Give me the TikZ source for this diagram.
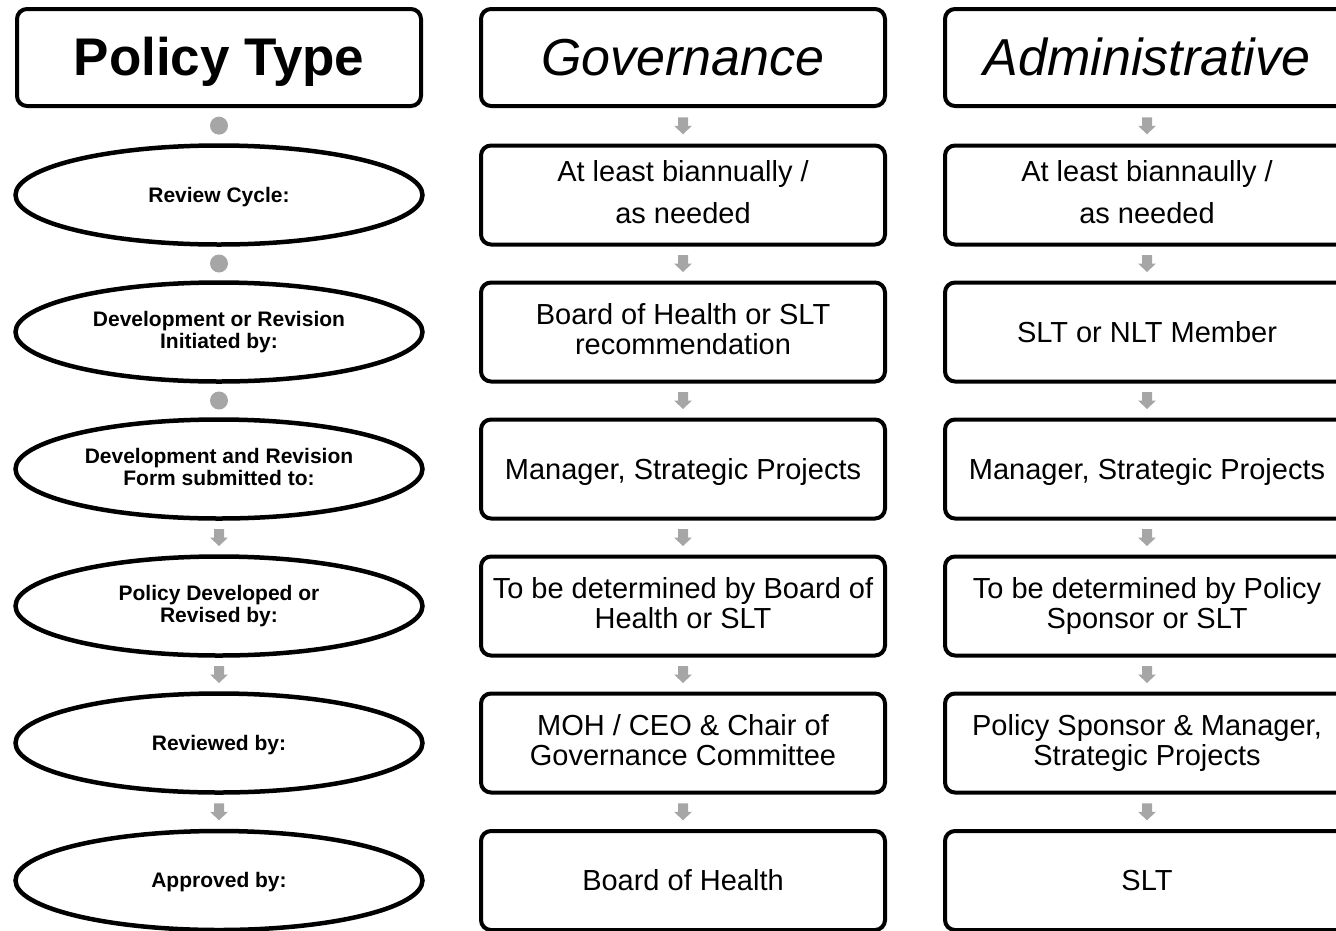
\documentclass[tikz,border=0pt]{standalone}
\usepackage{fontspec}
\setmainfont{Liberation Sans}
\usetikzlibrary{shapes.geometric,calc}
\definecolor{linkgray}{HTML}{A6A6A6}
% line box of the font: ascent and descent
\newcommand\linestrut{\rule[-0.212em]{0pt}{1.117em}}

\tikzset{
  evened/.style={execute at begin node=\linestrut, execute at end node=\linestrut},
  headbox/.style={draw, evened, line width=4pt, rounded corners=10pt, minimum width=404pt, minimum height=97pt, inner sep=0pt, font=\fontsize{52}{60}\selectfont},
  infobox/.style={draw, evened, line width=4pt, rounded corners=10pt, minimum width=404pt, minimum height=99pt, inner sep=0pt, align=center, font=\fontsize{29}{30}\selectfont},
  stage/.style={draw, evened, ellipse, line width=4.5pt, minimum width=407pt, minimum height=99pt, inner sep=0pt, align=center, font=\bfseries\fontsize{21}{22}\selectfont},
  gdot/.pic={\fill[linkgray] (0,0) circle (9pt);},
  garrow/.pic={\fill[linkgray] (-5,-8.5) -- (5,-8.5) -- (5,0) -- (9,0) -- (0,8.5) -- (-9,0) -- (-5,0) -- cycle;}
}

\begin{document}
\begin{tikzpicture}[x=1pt, y=-1pt]
  \path[use as bounding box, clip] (0,0) rectangle (1336,930);

  % headers
  \node[headbox] (t0) at (219,57.5) {\bfseries\fontsize{53}{60}\selectfont Policy Type};
  \node[headbox] (g0) at (683,57.5) {\itshape Governance};
  \node[headbox] (a0) at (1147,57.5) {\itshape Administrative};

  % left column: steps
  \node[stage] (t1) at (219,195)   {Review Cycle:};
  \node[stage] (t2) at (219,332)   {Development or Revision\\Initiated by:};
  \node[stage] (t3) at (219,469)   {Development and Revision\\Form submitted to:};
  \node[stage] (t4) at (219,606)   {Policy Developed or\\Revised by:};
  \node[stage] (t5) at (219,743)   {Reviewed by:};
  \node[stage] (t6) at (219,880.5) {Approved by:};

  % governance
  \node[infobox] (g1) at (683,195)   {At least biannually /\\[12pt]as needed};
  \node[infobox] (g2) at (683,332)   {Board of Health or SLT\\recommendation};
  \node[infobox] (g3) at (683,469)   {Manager, Strategic Projects};
  \node[infobox] (g4) at (683,606)   {To be determined by Board of\\Health or SLT};
  \node[infobox] (g5) at (683,743)   {MOH / CEO \& Chair of\\Governance Committee};
  \node[infobox] (g6) at (683,880.5) {Board of Health};

  % administrative
  \node[infobox] (a1) at (1147,195)   {At least biannaully /\\[12pt]as needed};
  \node[infobox] (a2) at (1147,332)   {SLT or NLT Member};
  \node[infobox] (a3) at (1147,469)   {Manager, Strategic Projects};
  \node[infobox] (a4) at (1147,606)   {To be determined by Policy\\Sponsor or SLT};
  \node[infobox] (a5) at (1147,743)   {Policy Sponsor \& Manager,\\Strategic Projects};
  \node[infobox] (a6) at (1147,880.5) {SLT};

  % links: dots first, then arrows
  \pic at ($(t0.south)!.5!(t1.north)$) {gdot};
  \pic at ($(t1.south)!.5!(t2.north)$) {gdot};
  \pic at ($(t2.south)!.5!(t3.north)$) {gdot};
  \pic at ($(t3.south)!.5!(t4.north)$) {garrow};
  \pic at ($(t4.south)!.5!(t5.north)$) {garrow};
  \pic at ($(t5.south)!.5!(t6.north)$) {garrow};

  \pic at ($(g0.south)!.5!(g1.north)$) {garrow};
  \pic at ($(g1.south)!.5!(g2.north)$) {garrow};
  \pic at ($(g2.south)!.5!(g3.north)$) {garrow};
  \pic at ($(g3.south)!.5!(g4.north)$) {garrow};
  \pic at ($(g4.south)!.5!(g5.north)$) {garrow};
  \pic at ($(g5.south)!.5!(g6.north)$) {garrow};

  \pic at ($(a0.south)!.5!(a1.north)$) {garrow};
  \pic at ($(a1.south)!.5!(a2.north)$) {garrow};
  \pic at ($(a2.south)!.5!(a3.north)$) {garrow};
  \pic at ($(a3.south)!.5!(a4.north)$) {garrow};
  \pic at ($(a4.south)!.5!(a5.north)$) {garrow};
  \pic at ($(a5.south)!.5!(a6.north)$) {garrow};
\end{tikzpicture}
\end{document}
